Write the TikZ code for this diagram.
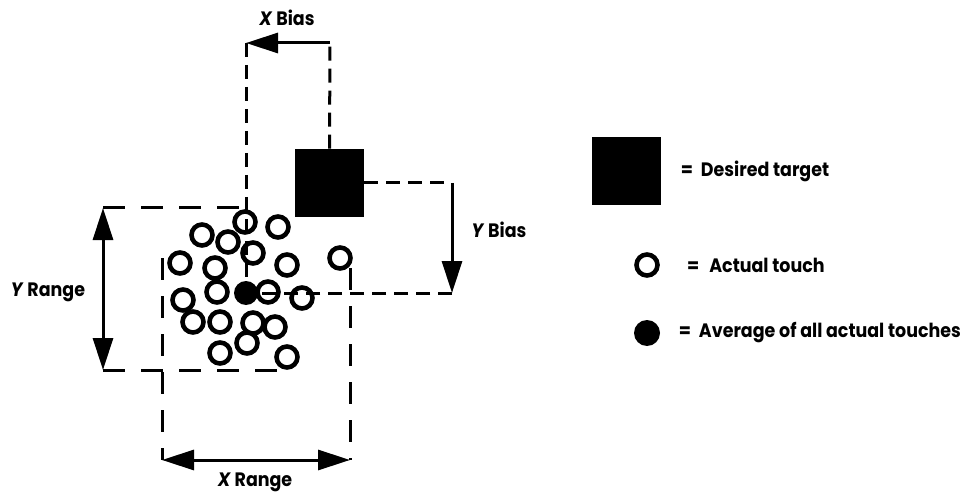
\documentclass[tikz,border=0pt]{standalone}
\usepackage{fontspec}
\setmainfont{Poppins}[FakeStretch=0.9]
\usetikzlibrary{positioning,arrows.meta}
\tikzset{
	>={Triangle[length=16pt,width=10pt]},
}

\begin{document}
\begin{tikzpicture}[x=0.5pt,y=-0.5pt,
		touch/.style={circle, draw, line width=2.3pt, minimum size=10.5pt, inner sep=0pt},
		avg/.style={circle, fill, minimum size=12pt, inner sep=0pt},
		target/.style={rectangle, fill, minimum width=34.5pt, minimum height=34pt, inner sep=0pt},
		bias/.style={line width=1.5pt, dash pattern=on 7pt off 4pt},
		rng/.style={line width=1.5pt, dash pattern=on 11pt off 8pt},
		arr/.style={line width=1.5pt, ->},
		lbl/.style={font=\fontsize{9.7}{12}\selectfont\bfseries, inner sep=0pt},
	]
		\useasboundingbox (0,0) rectangle (970,492);
		% target and touches
		\node(target)[target] at (329.5,183) {};
		\node(mean)[avg] at (246,293) {};
		\foreach \x/\y [count=\i] in {245/222, 278/227, 202/235, 228/242, 253/253, 180/263, 215/268,
				287/265, 340/258, 217/292, 268/292, 302/298, 183/300, 193/322, 220/322, 253/323,
				275/327, 247/343, 220/353, 287/357}
			\node(t\i)[touch] at (\x,\y) {};
		% x bias
		\coordinate(xb1) at (330,43);
		\coordinate(xb2) at (mean |- xb1);
		\draw[bias] (target.north) -- (xb1);
		\draw[arr] (xb1) -- (xb2);
		\draw[bias] (xb2) -- (mean);
		\node(xbias)[lbl] at (287,18) {\textit{X} Bias};
		% y bias
		\coordinate(yb1) at (452,183);
		\coordinate(yb2) at (yb1 |- mean);
		\draw[bias] (target.east) -- (yb1);
		\draw[arr] (yb1) -- (yb2);
		\draw[bias] (yb2) -- (mean);
		\node(ybias)[lbl] at (499,230) {\textit{Y} Bias};
		% y range
		\coordinate(yr1) at (103,208);
		\coordinate(yr2) at (103,370);
		\coordinate(yr1e) at (245,208);
		\coordinate(yr2e) at (283,370);
		\draw[rng] (yr1) -- (yr1e);
		\draw[rng] (yr2) -- (yr2e);
		\draw[arr,<->] (yr1) -- (yr2);
		\node(yrange)[lbl] at (48,292) {\textit{Y} Range};
		% x range
		\coordinate(xr1) at (162,460);
		\coordinate(xr2) at (350,460);
		\coordinate(xr1t) at (162,258);
		\coordinate(xr2t) at (350,268);
		\draw[rng] (xr1t) -- (xr1);
		\draw[rng] (xr2t) -- (xr2);
		\draw[arr,<->] (xr1) -- (xr2);
		\node(xrange)[lbl] at (255,482) {\textit{X} Range};
		% legend
		\node(legtarget)[target] at (626.5,171) {};
		\node(legtouch)[touch] at (647,265) {};
		\node(legavg)[avg, minimum size=13pt] at (647,333) {};
		\node[lbl, right=9.5pt of legtarget] {=\hspace{4pt}Desired target};
		\node[lbl, right=13.5pt of legtouch] {=\hspace{5pt}Actual touch};
		\node[lbl, right=9pt of legavg] {=\hspace{4pt}Average of all actual touches};
\end{tikzpicture}
\end{document}
